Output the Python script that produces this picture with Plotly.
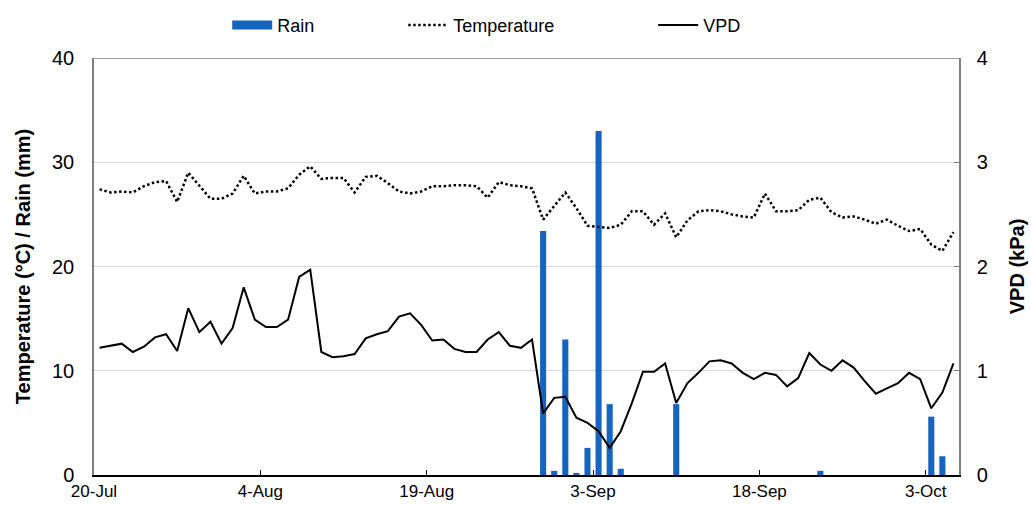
import plotly.graph_objects as go
import pandas as pd

# ---------------- data ----------------
start_date = "2019-07-20"
end_date = "2019-10-06"

temperature = [27.4, 27.1, 27.2, 27.1, 27.7, 28.1, 28.2, 26.2, 29.0, 27.7,
               26.5, 26.5, 27.0, 28.7, 27.0, 27.2, 27.2, 27.5, 28.8, 29.6,
               28.4, 28.5, 28.5, 27.1, 28.6, 28.7, 28.0, 27.2, 27.0, 27.2,
               27.7, 27.7, 27.8, 27.8, 27.7, 26.6, 28.1, 27.8, 27.7, 27.5,
               24.5, 25.8, 27.1, 25.6, 23.9, 23.8, 23.7, 24.0, 25.3, 25.3,
               24.0, 25.1, 22.8, 24.4, 25.3, 25.4, 25.3, 25.0, 24.8, 24.7,
               27.0, 25.3, 25.3, 25.4, 26.4, 26.6, 25.2, 24.7, 24.8, 24.5,
               24.1, 24.5, 23.9, 23.4, 23.6, 22.1, 21.5, 23.3]

vpd = [1.22, 1.24, 1.26, 1.18, 1.23, 1.32, 1.35, 1.19, 1.60, 1.37,
       1.47, 1.26, 1.41, 1.80, 1.49, 1.42, 1.42, 1.49, 1.90, 1.97,
       1.18, 1.13, 1.14, 1.16, 1.31, 1.35, 1.38, 1.52, 1.55, 1.44,
       1.29, 1.30, 1.21, 1.18, 1.18, 1.30, 1.37, 1.24, 1.22, 1.30,
       0.59, 0.74, 0.75, 0.55, 0.50, 0.42, 0.26, 0.42, 0.69, 0.99,
       0.99, 1.07, 0.69, 0.88, 0.98, 1.09, 1.10, 1.07, 0.98, 0.92,
       0.98, 0.96, 0.85, 0.93, 1.17, 1.06, 1.00, 1.10, 1.03, 0.90,
       0.78, 0.83, 0.88, 0.98, 0.92, 0.64, 0.79, 1.07]

rain_dates = ["2019-08-29", "2019-08-30", "2019-08-31", "2019-09-01",
              "2019-09-02", "2019-09-03", "2019-09-04", "2019-09-05",
              "2019-09-10", "2019-09-23", "2019-10-03", "2019-10-04"]
rain_mm = [23.4, 0.4, 13.0, 0.2, 2.6, 33.0, 6.8, 0.6, 6.8, 0.4, 5.6, 1.8]

tick_dates = ["2019-07-20", "2019-08-04", "2019-08-19",
              "2019-09-03", "2019-09-18", "2019-10-03"]
tick_labels = ["20-Jul", "4-Aug", "19-Aug", "3-Sep", "18-Sep", "3-Oct"]

left_ticks = [0, 10, 20, 30, 40]
right_ticks = [0, 1, 2, 3, 4]

# ---------------- figure ----------------
BLUE = "#1565C0"
FONT = "Liberation Sans, Arial, sans-serif"

days = pd.date_range(start_date + " 12:00", periods=len(temperature), freq="D")
rain_x = pd.to_datetime(rain_dates) + pd.Timedelta(hours=12)

fig = go.Figure()
fig.add_trace(go.Bar(x=rain_x, y=rain_mm, width=0.55 * 86400000,
                     marker=dict(color=BLUE, line=dict(width=0)),
                     name="Rain", showlegend=False))
fig.add_trace(go.Scatter(x=[None], y=[None], mode="lines",
                         line=dict(color=BLUE, width=9),
                         name="Rain", legendwidth=121))
fig.add_trace(go.Scatter(x=days, y=temperature, mode="lines",
                         line=dict(color="black", width=2.5, dash="2.5px,2.5px"),
                         name="Temperature", legendwidth=195))
fig.add_trace(go.Scatter(x=days, y=vpd, mode="lines", yaxis="y2",
                         line=dict(color="black", width=2),
                         name="VPD"))

fig.update_layout(
    width=1031, height=505,
    margin=dict(l=94, r=72, t=58, b=30, autoexpand=False),
    plot_bgcolor="white", paper_bgcolor="white",
    font=dict(family=FONT, color="black"),
    showlegend=True,
    legend=dict(orientation="h", x=0.154, xanchor="left",
                yref="container", y=0.95, yanchor="middle",
                font=dict(size=18, family=FONT), itemwidth=40,
                bgcolor="rgba(0,0,0,0)", traceorder="normal"),
    xaxis=dict(type="date", range=[start_date, end_date],
               tickvals=tick_dates, ticktext=tick_labels,
               ticks="inside", ticklen=5, tickcolor="black",
               showline=True, linecolor="black", linewidth=1.5,
               showgrid=False, zeroline=False, automargin=False,
               tickfont=dict(size=17, family=FONT)),
    yaxis=dict(range=[0, 40], tickvals=left_ticks,
               showgrid=True, gridcolor="#d9d9d9", gridwidth=1,
               showline=True, linecolor="#808080", linewidth=1.5,
               zeroline=False, ticks="", ticklabelstandoff=14, automargin=False,
               tickfont=dict(size=20, family=FONT),
               title=dict(text="<b>Temperature (°C) / Rain (mm)</b>",
                          font=dict(size=20, family=FONT), standoff=16)),
    yaxis2=dict(range=[0, 4], tickvals=right_ticks, overlaying="y", side="right",
                showgrid=False, zeroline=False, automargin=False,
                showline=True, linecolor="#808080", linewidth=1.5,
                ticks="inside", ticklen=5, tickcolor="#808080",
                ticklabelstandoff=12,
                tickfont=dict(size=20, family=FONT),
                title=dict(text="<b>VPD (kPa)</b>",
                           font=dict(size=20, family=FONT), standoff=23)),
    shapes=[dict(type="line", xref="paper", yref="y", x0=0, x1=1, y0=40, y1=40,
                 line=dict(color="#808080", width=1.5), layer="above")],
)

fig.write_html("out.html")
